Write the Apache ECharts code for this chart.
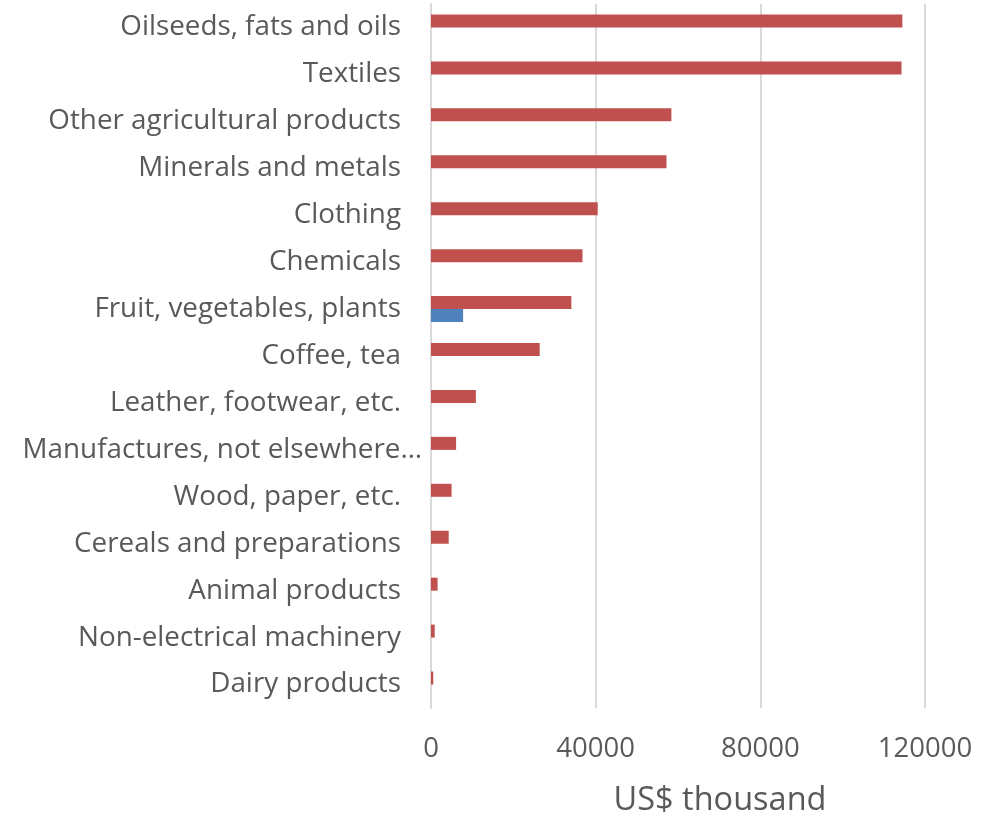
<!DOCTYPE html>
<html>
<head>
<meta charset="utf-8">
<script src="https://cdn.jsdelivr.net/npm/echarts@6/dist/echarts.min.js"></script>
<style>
  html, body { margin: 0; padding: 0; background: #fff; }
  #chart { width: 990px; height: 816px; }
</style>
</head>
<body>
<div id="chart"></div>
<script>
// Product groups, top to bottom
const categories = [
  'Oilseeds, fats and oils',
  'Textiles',
  'Other agricultural products',
  'Minerals and metals',
  'Clothing',
  'Chemicals',
  'Fruit, vegetables, plants',
  'Coffee, tea',
  'Leather, footwear, etc.',
  'Manufactures, not elsewhere specified',
  'Wood, paper, etc.',
  'Cereals and preparations',
  'Animal products',
  'Non-electrical machinery',
  'Dairy products'
];

// Values in US$ thousand
const redValues = [114500, 114300, 58400, 57200, 40500, 36800, 34100, 26400, 10900, 6100, 5000, 4300, 1600, 900, 550];
const blueValues = [0, 0, 0, 0, 0, 0, 7800, 0, 0, 0, 0, 0, 0, 0, 0];

const xTicks = { min: 0, max: 120000, interval: 40000 };

const textColor = '#595959';
const fontFamily = '"Open Sans", sans-serif';

const chart = echarts.init(document.getElementById('chart'), null, { renderer: 'canvas' });

chart.setOption({
  animation: false,
  backgroundColor: '#ffffff',
  grid: { left: 431, right: 65, top: 4, bottom: 108, containLabel: false, outerBoundsMode: 'none' },
  xAxis: {
    type: 'value',
    min: xTicks.min,
    max: xTicks.max,
    interval: xTicks.interval,
    axisLine: { show: false },
    axisTick: { show: false },
    splitLine: { show: true, lineStyle: { color: '#d9d9d9', width: 2 } },
    axisLabel: {
      color: textColor, fontSize: 27.5, fontFamily: fontFamily, margin: 27,
      formatter: (v) => String(v)
    },
    name: 'US$ thousand',
    nameLocation: 'middle',
    nameGap: 76,
    nameTextStyle: { color: textColor, fontSize: 32.5, fontFamily: fontFamily, padding: [0, 0, 0, 84] }
  },
  yAxis: {
    type: 'category',
    data: categories,
    inverse: true,
    axisLine: { show: true, lineStyle: { color: '#d9d9d9', width: 2 } },
    axisTick: { show: false },
    splitLine: { show: false },
    axisLabel: {
      margin: 9,
      formatter: (v) => v.length > 30
        ? '{m|' + v.slice(0, 27).trimEnd() + '…}'
        : '{n|' + v + '}',
      rich: {
        n: { color: textColor, fontSize: 27.8, fontFamily: fontFamily, padding: [0, 21, 0, 0] },
        m: { color: textColor, fontSize: 27.8, fontFamily: fontFamily }
      }
    }
  },
  series: [
    {
      name: 'Red',
      type: 'bar',
      data: redValues,
      barWidth: 13,
      barGap: '0%',
      itemStyle: { color: '#c0504d' }
    },
    {
      name: 'Blue',
      type: 'bar',
      data: blueValues,
      barWidth: 13,
      barGap: '0%',
      itemStyle: { color: '#4f81bd' }
    }
  ]
});
</script>
</body>
</html>
